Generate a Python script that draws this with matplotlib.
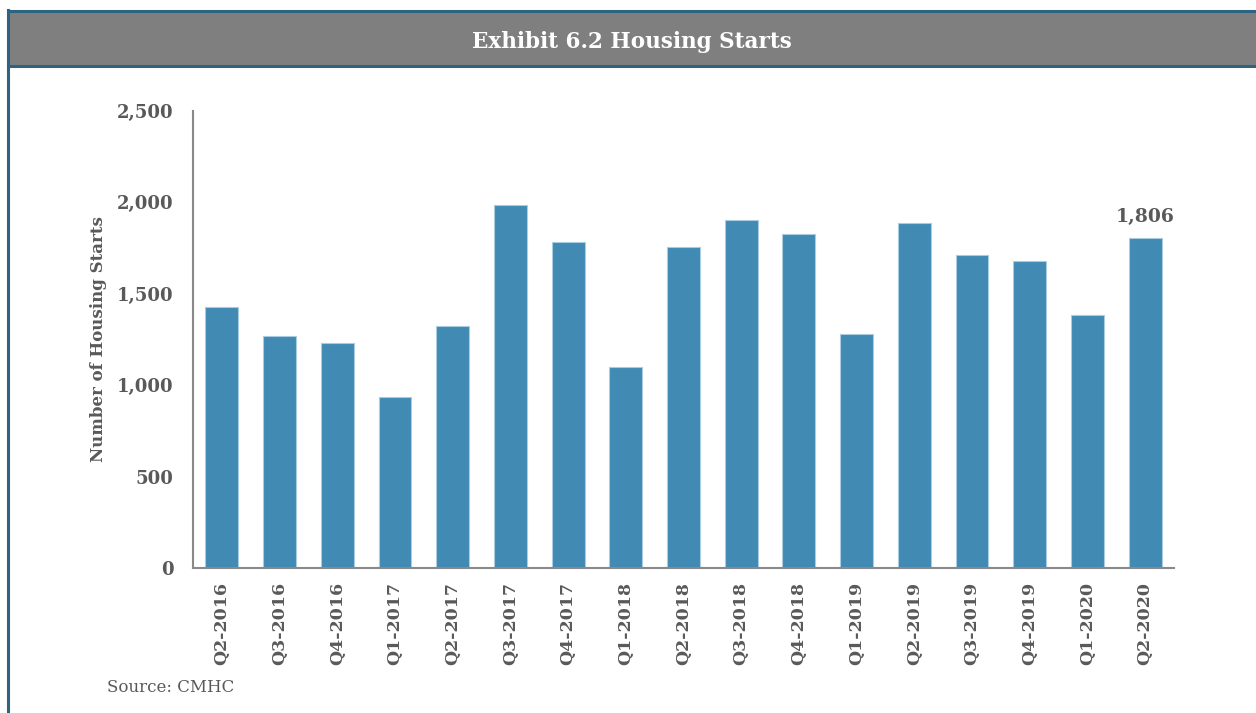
import matplotlib.pyplot as plt
from matplotlib.patches import Rectangle
from matplotlib.lines import Line2D
import numpy as np

plt.rcParams['font.family'] = ['DejaVu Serif']

quarters = ['Q2-2016', 'Q3-2016', 'Q4-2016', 'Q1-2017', 'Q2-2017', 'Q3-2017',
            'Q4-2017', 'Q1-2018', 'Q2-2018', 'Q3-2018', 'Q4-2018', 'Q1-2019',
            'Q2-2019', 'Q3-2019', 'Q4-2019', 'Q1-2020', 'Q2-2020']
starts = [1425, 1268, 1231, 934, 1322, 1984, 1781, 1100, 1754, 1902, 1825,
          1279, 1884, 1712, 1678, 1383, 1806]
yticks = [0, 500, 1000, 1500, 2000, 2500]

txt = '#595959'
bar_col = '#418AB3'
frame_col = '#2E6480'

fig = plt.figure(figsize=(12.56, 7.13), dpi=100)

# header band and frame
fig.patches.append(Rectangle((8/1256, 1-67/713), 1, 57/713, transform=fig.transFigure,
                             facecolor='#7F7F7F', edgecolor='none', zorder=0))
fig.lines.append(Line2D([8/1256, 1], [1-11/713, 1-11/713], transform=fig.transFigure,
                        color=frame_col, lw=2.2))
fig.lines.append(Line2D([8/1256, 1], [1-66/713, 1-66/713], transform=fig.transFigure,
                        color=frame_col, lw=2.2))
fig.lines.append(Line2D([8/1256, 8/1256], [0, 1-10/713], transform=fig.transFigure,
                        color=frame_col, lw=2.2))
fig.text(632/1256, 1-42/713, 'Exhibit 6.2 Housing Starts', ha='center', va='center',
         color='white', fontsize=15.5, fontweight='bold')

ax = fig.add_axes([193/1256, 1-568/713, 981/1256, 457.5/713])
x = np.arange(len(quarters))
ax.bar(x, starts, width=0.57, color=bar_col, edgecolor='#A9CCE0', linewidth=0.8)
ax.set_xlim(-0.5, len(quarters)-0.5)
ax.set_ylim(0, 2500)
ax.set_yticks(yticks)
ax.set_yticklabels([f'{v:,}' for v in yticks], fontsize=13, fontweight='bold', color=txt)
ax.set_xticks(x)
ax.set_xticklabels(quarters, rotation=90, fontsize=12.5, fontweight='bold', color=txt)
ax.tick_params(axis='both', length=0)
ax.tick_params(axis='y', pad=14)
ax.tick_params(axis='x', pad=10)
for s in ['top', 'right']:
    ax.spines[s].set_visible(False)
for s in ['left', 'bottom']:
    ax.spines[s].set_color('#898989')
    ax.spines[s].set_linewidth(1.5)
ax.set_ylabel('Number of Housing Starts', fontsize=12, fontweight='bold', color=txt, labelpad=7)

ax.annotate(f'{starts[-1]:,}', (x[-1], starts[-1]), xytext=(0, 8), textcoords='offset points',
            ha='center', va='bottom', fontsize=13.5, fontweight='bold', color=txt)

fig.text(107/1256, 1-688/713, 'Source: CMHC', ha='left', va='center', fontsize=12, color=txt)

fig.savefig('out.png', dpi=100)
